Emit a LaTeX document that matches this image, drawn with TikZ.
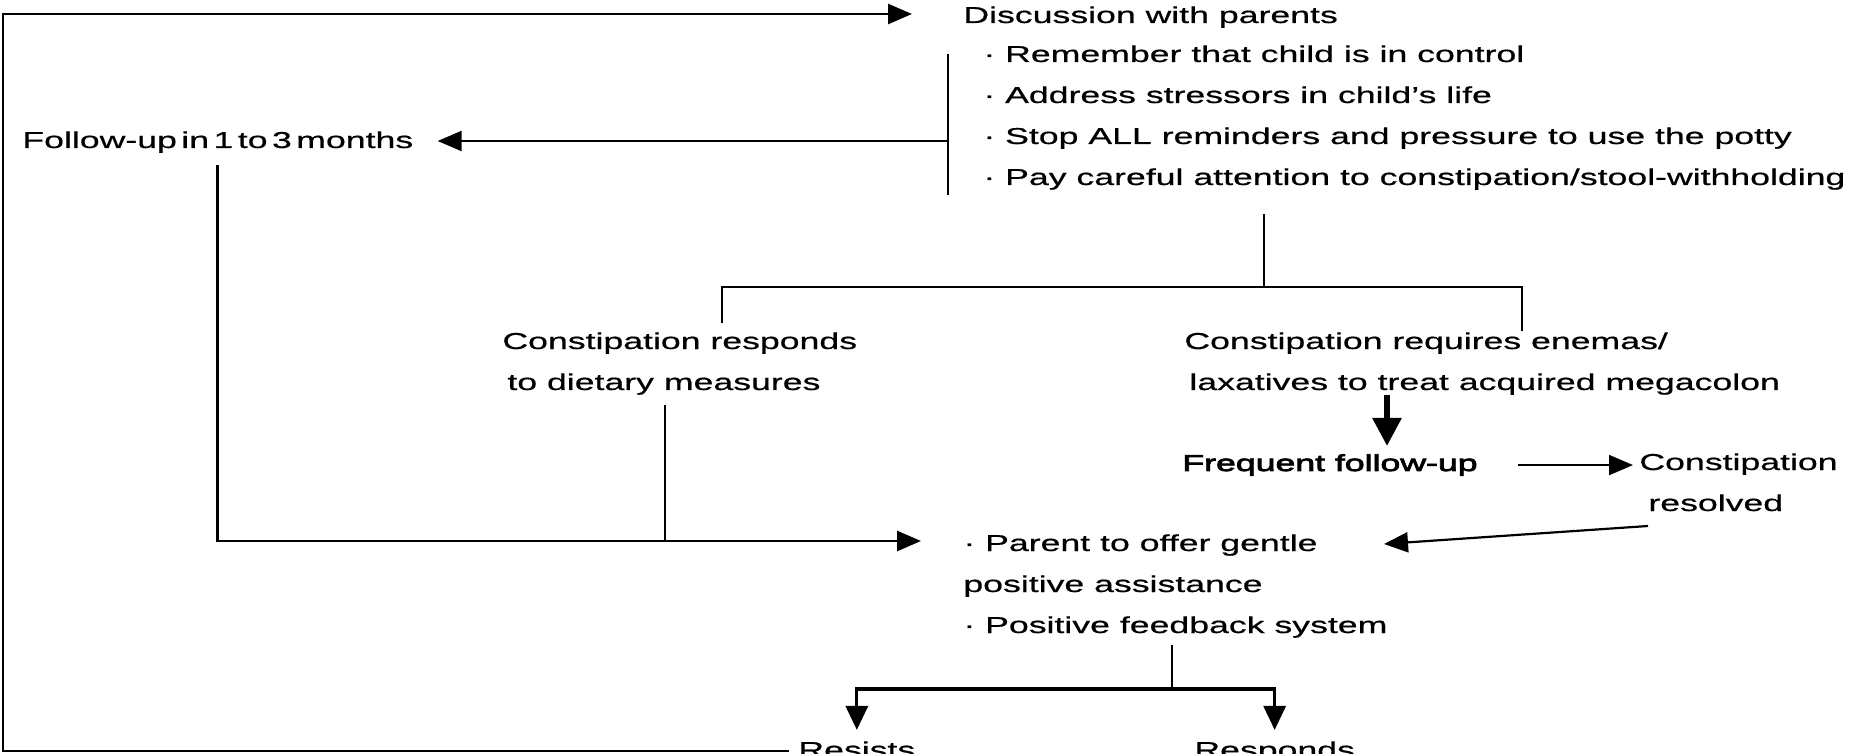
\documentclass[tikz,border=0pt]{standalone}
\usepackage{fontspec}
\setmainfont{Liberation Sans}[FakeStretch=1.55,FakeBold=0.6]
\newfontfamily\freqfont{Liberation Sans}[FakeStretch=1.55,FakeBold=3.5]
\usetikzlibrary{arrows.meta,calc}
\begin{document}
\begin{tikzpicture}[x=0.5pt,y=-0.5pt,
  txt/.style={inner sep=0pt,anchor=base west,align=left,font=\fontsize{11.5}{20.5}\selectfont},
  ln/.style={line width=1.1pt},
  arr/.style={ln,-{Triangle[length=12pt,width=10pt]}},
  bigarr/.style={line width=3pt,-{Triangle[length=14pt,width=14pt]}},
  midarr/.style={line width=1.6pt,-{Triangle[length=12pt,width=11pt]}}]
\useasboundingbox (0,0) rectangle (1876,754);
\fill[white] (0,0) rectangle (1876,754);

% text nodes (base west = baseline of the last line)
\node[txt] (disc) at (963,23) {Discussion with parents};
\node[txt] (bul) at (983,185) {· Remember that child is in control\\· Address stressors in child's life\\· Stop ALL reminders and pressure to use the potty\\· Pay careful attention to constipation/stool-withholding};
\node[txt] (follow) at (22,148) {\spaceskip=0.45\fontdimen2\font Follow-up in 1 to 3 months};
\node[txt] (lc) at (502,390) {Constipation responds\\\hspace*{2.5pt}to dietary measures};
\node[txt] (rc) at (1184,390) {Constipation requires enemas/\\\hspace*{2.5pt}laxatives to treat acquired megacolon};
\node[txt,font=\fontsize{11.5}{20.5}\freqfont] (freq) at (1182,471) {Frequent follow-up};
\node[txt] (cr) at (1639,511) {Constipation\\\hspace*{4.5pt}resolved};
\node[txt] (par) at (963,633) {· Parent to offer gentle\\positive assistance\\· Positive feedback system};
\node[txt] (res) at (798,758) {Resists};
\node[txt] (rsp) at (1194,758) {Responds};

% coordinates
\coordinate (bl) at (3,751);
\coordinate (tl) at (3,14);
\coordinate (brT) at (948,54);
\coordinate (brB) at (948,195);
\coordinate (brM) at (948,141);
\coordinate (pj) at ($(par.base west)+(-42,-92)$);
\coordinate (dj) at (665,541);
\coordinate (tj) at (1264,287);
\coordinate (lb) at (722,323);
\coordinate (rb) at (1522,331);
\coordinate (ta) at (1387,445);
\coordinate (fj) at (1172,689);

% loop back from Resists to discussion
\draw[arr,line width=1.3pt] ($(res.base west)+(-9,-7)$) -- (bl) -- (tl) -- ($(disc.base west)+(-51,-9)$);

% bracket and arrow to follow-up
\draw[ln] (brT) -- (brB);
\draw[arr,shorten >=12pt] (brM) -- (brM -| follow.east);

% follow-up down and to parent
\draw[arr,line width=1.4pt,shorten <=6pt] (follow.south) |- (pj);

% dietary measures join
\draw[ln,shorten <=5pt] (dj |- lc.south) -- (dj);

% tree from bullets
\draw[ln,shorten <=12pt] (tj |- bul.south) -- (tj);
\draw[ln] (lb) |- (tj) -| (rb);

% thick arrow to frequent follow-up
\draw[bigarr,shorten >=4pt] (ta |- rc.south) -- (ta |- freq.north);

% frequent -> constipation resolved
\draw[arr,shorten <=20pt,shorten >=3pt] (freq.east) -- (freq.east -| cr.base west);

% resolved -> parent
\draw[arr] ($(cr.base west)+(9,15)$) -- ($(par.base west)+(421,-89)$);

% feedback split
\draw[ln,line width=1.4pt,shorten <=3.5pt] (fj |- par.south) -- (fj);
\draw[midarr,shorten >=5.5pt] (fj) -| (res.north);
\draw[midarr,shorten >=5.5pt] (fj) -| (rsp.north);
\end{tikzpicture}
\end{document}
